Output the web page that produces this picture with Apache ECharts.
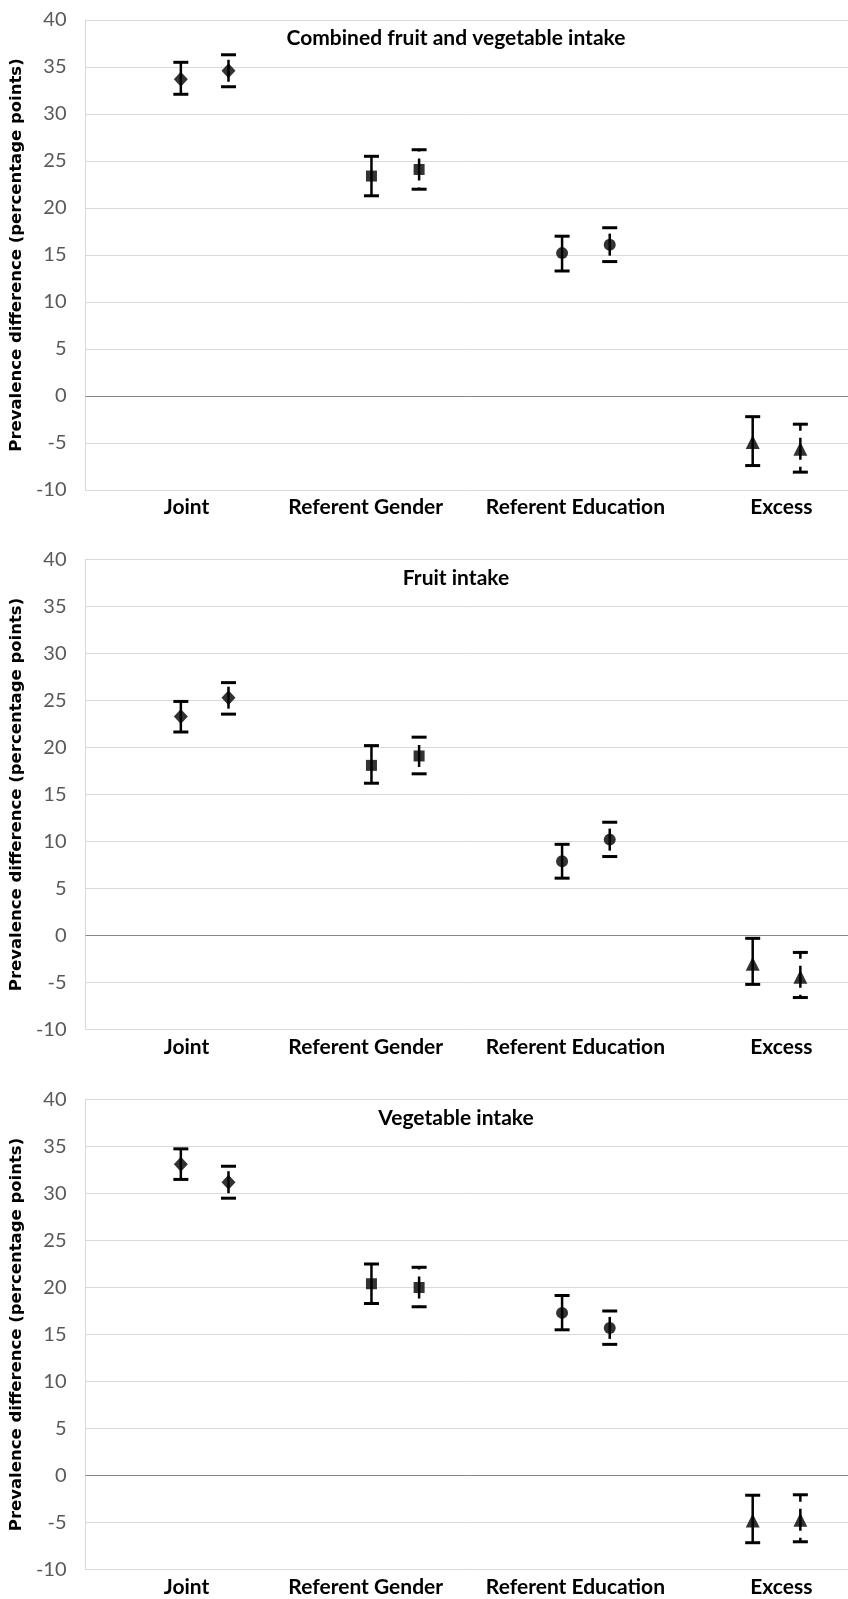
<!DOCTYPE html>
<html>
<head>
<meta charset="utf-8">
<script src="https://cdn.jsdelivr.net/npm/echarts@6/dist/echarts.min.js"></script>
<style>
  html, body { margin: 0; padding: 0; background: #fff; }
  #main { width: 848px; height: 1599px; }
</style>
</head>
<body>
<div id="main"></div>
<script>
const categories = ['Joint', 'Referent Gender', 'Referent Education', 'Excess']
const panelTitles = ['Combined fruit and vegetable intake', 'Fruit intake', 'Vegetable intake']
const yAxisName = 'Prevalence difference (percentage points)'

// x positions of the two estimates in each group, and of the group labels
const xFirst = [0.5, 1.5, 2.5, 3.5]
const xSecond = [0.75, 1.75, 2.75, 3.75]
const labelPos = [0.53, 1.47, 2.57, 3.65]

// combined fruit and vegetable intake
const combinedMean1 = [33.7, 23.4, 15.2, -4.9]
const combinedLow1 = [32.1, 21.3, 13.3, -7.4]
const combinedHigh1 = [35.5, 25.5, 17.0, -2.2]
const combinedMean2 = [34.6, 24.1, 16.1, -5.6]
const combinedLow2 = [32.9, 22.0, 14.3, -8.1]
const combinedHigh2 = [36.3, 26.2, 17.9, -3.0]

// fruit intake
const fruitMean1 = [23.3, 18.1, 7.9, -3.0]
const fruitLow1 = [21.65, 16.2, 6.1, -5.2]
const fruitHigh1 = [24.9, 20.2, 9.7, -0.3]
const fruitMean2 = [25.3, 19.1, 10.2, -4.4]
const fruitLow2 = [23.55, 17.2, 8.4, -6.6]
const fruitHigh2 = [26.9, 21.1, 12.05, -1.8]

// vegetable intake
const vegMean1 = [33.1, 20.4, 17.3, -4.8]
const vegLow1 = [31.5, 18.3, 15.5, -7.15]
const vegHigh1 = [34.75, 22.5, 19.15, -2.1]
const vegMean2 = [31.2, 20.0, 15.7, -4.7]
const vegLow2 = [29.5, 17.95, 13.95, -7.05]
const vegHigh2 = [32.9, 22.15, 17.5, -2.05]

const panels = [
  [combinedMean1, combinedLow1, combinedHigh1, combinedMean2, combinedLow2, combinedHigh2],
  [fruitMean1, fruitLow1, fruitHigh1, fruitMean2, fruitLow2, fruitHigh2],
  [vegMean1, vegLow1, vegHigh1, vegMean2, vegLow2, vegHigh2]
]

const markerSymbols = ['diamond', 'rect', 'circle', 'triangle']
const markerSizes = [[14, 15], 11, 12, [14, 14]]
const panelTops = [20, 559.5, 1099.5]

const chart = echarts.init(document.getElementById('main'))

const errorBarRenderer = (dashed) => (params, api) => {
  const x = api.value(0)
  const mid = api.coord([x, api.value(1)])
  const lo = api.coord([x, api.value(2)])
  const hi = api.coord([x, api.value(3)])
  const whisker = { stroke: '#000', lineWidth: 2.5, lineDash: dashed ? [11, 7] : null }
  const cap = { stroke: '#000', lineWidth: 3 }
  return {
    type: 'group',
    children: [
      { type: 'line', shape: { x1: mid[0], y1: mid[1], x2: hi[0], y2: hi[1] }, style: whisker },
      { type: 'line', shape: { x1: mid[0], y1: mid[1], x2: lo[0], y2: lo[1] }, style: whisker },
      { type: 'line', shape: { x1: hi[0] - 7.5, y1: hi[1], x2: hi[0] + 7.5, y2: hi[1] }, style: cap },
      { type: 'line', shape: { x1: lo[0] - 7.5, y1: lo[1], x2: lo[0] + 7.5, y2: lo[1] }, style: cap }
    ]
  }
}

const grid = []
const xAxis = []
const yAxis = []
const title = []
const series = []

panels.forEach((p, i) => {
  const [m1, lo1, hi1, m2, lo2, hi2] = p
  grid.push({ left: 83, top: panelTops[i], width: 774, height: 470 })
  title.push({
    text: panelTitles[i],
    left: 451,
    top: panelTops[i] + 3,
    textAlign: 'center',
    textStyle: { fontFamily: 'Lato', fontWeight: 'bold', fontSize: 21, color: '#000' }
  })
  xAxis.push({
    gridIndex: i,
    type: 'value',
    min: 0,
    max: 4,
    axisLine: { show: false },
    axisTick: { show: false },
    splitLine: { show: false },
    axisLabel: {
      customValues: labelPos,
      formatter: v => categories[labelPos.indexOf(v)] || '',
      fontFamily: 'Lato',
      fontWeight: 'bold',
      fontSize: 21,
      color: '#000',
      margin: 7
    }
  })
  yAxis.push({
    gridIndex: i,
    type: 'value',
    min: -10,
    max: 40,
    interval: 5,
    name: yAxisName,
    nameLocation: 'middle',
    nameGap: 46,
    nameTextStyle: { fontFamily: 'DejaVu Sans', fontWeight: 'bold', fontSize: 16.5, color: '#000' },
    axisLine: { show: true, lineStyle: { color: '#d9d9d9' } },
    axisTick: { show: false },
    splitLine: { lineStyle: { color: '#d9d9d9', width: 1 } },
    axisLabel: { color: '#595959', fontFamily: 'Lato', fontSize: 20, margin: 19 }
  })

  series.push({
    type: 'custom',
    xAxisIndex: i,
    yAxisIndex: i,
    renderItem: errorBarRenderer(false),
    data: xFirst.map((x, k) => [x, m1[k], lo1[k], hi1[k]]),
    z: 2
  })
  series.push({
    type: 'custom',
    xAxisIndex: i,
    yAxisIndex: i,
    renderItem: errorBarRenderer(true),
    data: xSecond.map((x, k) => [x, m2[k], lo2[k], hi2[k]]),
    z: 2
  })
  series.push({
    type: 'scatter',
    xAxisIndex: i,
    yAxisIndex: i,
    itemStyle: { color: '#000' },
    data: xFirst.map((x, k) => ({ value: [x, m1[k]], symbol: markerSymbols[k], symbolSize: markerSizes[k] })),
    z: 3,
    markLine: {
      silent: true,
      symbol: 'none',
      label: { show: false },
      lineStyle: { color: '#868686', width: 1, type: 'solid' },
      data: [{ yAxis: 0 }]
    }
  })
  series.push({
    type: 'scatter',
    xAxisIndex: i,
    yAxisIndex: i,
    itemStyle: { color: '#000' },
    data: xSecond.map((x, k) => ({ value: [x, m2[k]], symbol: markerSymbols[k], symbolSize: markerSizes[k] })),
    z: 3
  })
})

chart.setOption({
  animation: false,
  backgroundColor: '#fff',
  title,
  grid,
  xAxis,
  yAxis,
  series
})
</script>
</body>
</html>
